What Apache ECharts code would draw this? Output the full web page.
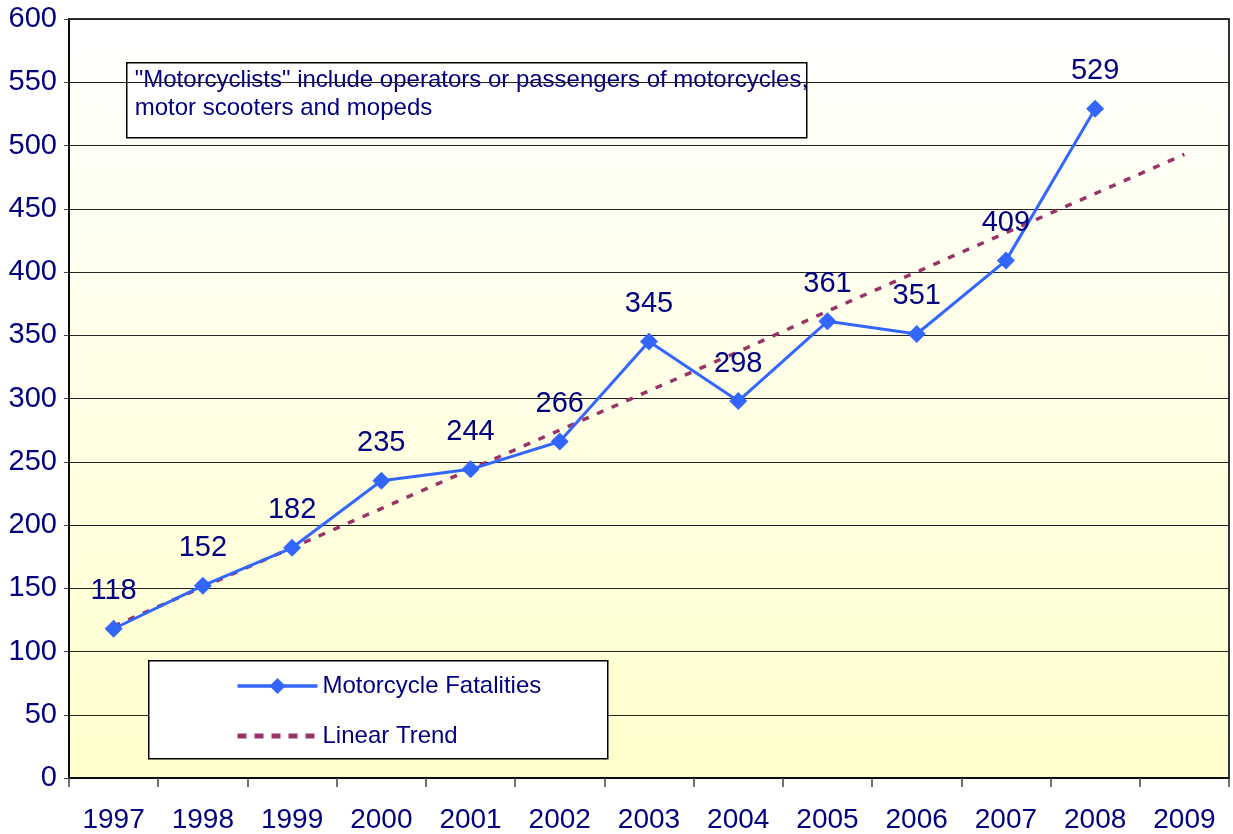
<!DOCTYPE html>
<html>
<head>
<meta charset="utf-8">
<script src="https://cdn.jsdelivr.net/npm/echarts@6/dist/echarts.min.js"></script>
<style>
  html, body { margin: 0; padding: 0; background: #fff; }
  #chart { width: 1233px; height: 834px; }
</style>
</head>
<body>
<div id="chart"></div>
<script>
const years = ['1997', '1998', '1999', '2000', '2001', '2002', '2003', '2004', '2005', '2006', '2007', '2008', '2009']
const fatalities = [118, 152, 182, 235, 244, 266, 345, 298, 361, 351, 409, 529, null]
// trend line, one value per year
const trend = [120, 151, 182, 213, 244, 275, 306, 337, 369, 400, 431, 462, 493]
const noteLines = ['"Motorcyclists" include operators or passengers of motorcycles,', 'motor scooters and mopeds']

const navy = '#000080'
const font = 'Liberation Sans, Arial, sans-serif'

const chart = echarts.init(document.getElementById('chart'))

const option = {
  backgroundColor: '#fff',
  animation: false,
  grid: {
    left: 69, right: 4, top: 19, bottom: 56,
    show: true,
    borderColor: '#333',
    borderWidth: 2,
    backgroundColor: {
      type: 'linear', x: 0, y: 0, x2: 0, y2: 1,
      colorStops: [{ offset: 0, color: '#ffffff' }, { offset: 1, color: '#ffffcc' }]
    }
  },
  legend: {
    left: 230, top: 669,
    orient: 'vertical',
    itemGap: 26,
    itemWidth: 80,
    itemHeight: 20,
    textStyle: { color: navy, fontSize: 24, fontFamily: font },
    data: [
      { name: 'Motorcycle Fatalities', lineStyle: { width: 3.5 } },
      { name: 'Linear Trend', itemStyle: { opacity: 0 }, lineStyle: { width: 5, type: [9, 8] } }
    ]
  },
  xAxis: {
    type: 'category',
    data: years,
    boundaryGap: true,
    axisLine: { lineStyle: { color: '#000', width: 1.5 } },
    axisTick: { show: true, length: 9, lineStyle: { color: '#444', width: 1.5 } },
    axisLabel: { color: navy, fontSize: 28, fontFamily: font, margin: 28 },
    splitLine: { show: false }
  },
  yAxis: {
    type: 'value',
    min: 0, max: 600, interval: 50,
    axisLine: { show: true, lineStyle: { color: '#000', width: 1.5 } },
    axisTick: { show: true, length: 5, lineStyle: { color: '#444' } },
    axisLabel: { color: navy, fontSize: 29, fontFamily: font, margin: 12 },
    splitLine: { show: true, lineStyle: { color: '#222', width: 1 } }
  },
  graphic: [
    {
      type: 'group', left: 126, top: 62,
      children: [
        { type: 'rect', shape: { x: 0, y: 0, width: 680, height: 75 },
          style: { fill: '#fff', stroke: '#000', lineWidth: 1.5 } },
        { type: 'text', x: 8, y: 4,
          style: { text: noteLines.join('\n'), fill: navy, font: '24px ' + font, lineHeight: 28 } }
      ]
    },
    {
      type: 'rect', left: 148, top: 660, z: 1,
      shape: { width: 459, height: 98 },
      style: { fill: '#fff', stroke: '#000', lineWidth: 1.5 }
    }
  ],
  series: [
    {
      name: 'Linear Trend',
      type: 'line',
      data: trend,
      symbol: 'none',
      z: 2,
      lineStyle: { color: '#993366', width: 3.5, type: [7, 9] },
      itemStyle: { color: '#993366' }
    },
    {
      name: 'Motorcycle Fatalities',
      type: 'line',
      data: fatalities,
      symbol: 'diamond',
      symbolSize: 18,
      z: 3,
      lineStyle: { color: '#3366ff', width: 3 },
      itemStyle: { color: '#3366ff' },
      label: {
        show: true, position: 'top', distance: 14,
        color: navy, fontSize: 29, fontFamily: font
      }
    }
  ]
}

chart.setOption(option)
</script>
</body>
</html>
